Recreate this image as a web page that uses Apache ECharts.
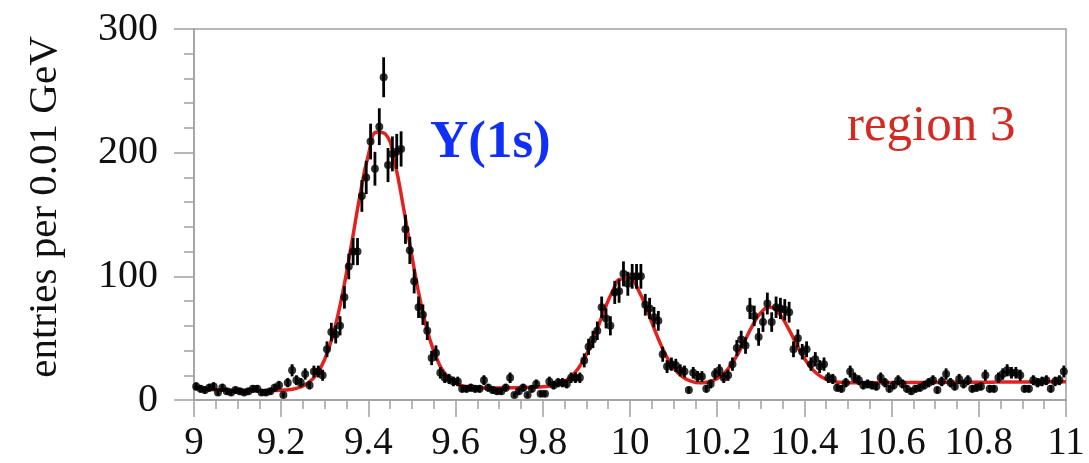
<!DOCTYPE html>
<html>
<head>
<meta charset="utf-8">
<script src="https://cdn.jsdelivr.net/npm/echarts@6/dist/echarts.min.js"></script>
<style>
html,body{margin:0;padding:0;background:#fff;}
#chart{width:1089px;height:463px;}
</style>
</head>
<body>
<div id="chart"></div>
<script>
// Histogram: entries per 0.01 GeV bin, bin centres 9.005 ... 10.995
const binStart = 9.005;
const binWidth = 0.01;
const counts = [
  11, 9, 8, 10, 11, 6, 10, 7, 6, 8,
  7, 6, 7, 9, 9, 6, 6, 7, 10, 12,
  4, 14, 24, 16, 14, 21, 12, 23, 23, 20,
  41, 55, 53, 60, 83, 108, 120, 120, 165, 180,
  209, 187, 221, 261, 190, 199, 201, 203, 138, 121,
  96, 75, 69, 56, 34, 38, 22, 18, 17, 15,
  15, 9, 9, 10, 9, 9, 16, 10, 8, 7,
  7, 10, 18, 4, 7, 10, 4, 9, 13, 5,
  5, 15, 12, 14, 14, 13, 18, 18, 18, 32,
  43, 49, 56, 75, 66, 60, 87, 88, 102, 94,
  100, 100, 100, 77, 74, 67, 64, 37, 27, 29,
  28, 24, 23, 8, 22, 19, 19, 9, 13, 21,
  24, 18, 20, 29, 42, 49, 44, 74, 68, 51,
  63, 78, 63, 75, 74, 73, 71, 41, 50, 39,
  41, 29, 33, 27, 29, 18, 17, 10, 9, 14,
  23, 18, 16, 12, 13, 12, 11, 18, 14, 9,
  12, 16, 13, 9, 7, 9, 10, 12, 14, 16,
  8, 15, 21, 14, 11, 17, 13, 16, 9, 10,
  11, 20, 9, 9, 18, 21, 24, 22, 22, 20,
  9, 9, 16, 14, 15, 16, 9, 15, 16, 23
];

const fitStart = 9.0;
const fitStep = 0.02;
const fitValues = [
  9.5, 9.0, 8.5, 8.2, 7.9, 7.7, 7.6, 7.5, 7.5, 7.7,
  7.9, 8.5, 10.0, 13.4, 20.2, 33.1, 54.3, 85.0, 123.4, 164.0,
  198.1, 216.8, 214.7, 192.5, 156.5, 115.9, 78.7, 50.1, 30.9, 19.6,
  13.8, 11.1, 10.1, 9.8, 9.7, 9.8, 9.9, 10.0, 10.1, 10.3,
  10.7, 11.5, 13.5, 17.5, 24.9, 36.8, 53.0, 71.4, 87.9, 97.9,
  98.0, 88.2, 71.9, 53.7, 37.7, 26.0, 18.9, 15.2, 13.9, 14.6,
  17.4, 23.2, 32.8, 45.7, 59.6, 70.6, 74.9, 70.8, 60.0, 46.3,
  33.6, 24.2, 18.5, 15.6, 14.4, 14.0, 13.9, 13.9, 14.0, 14.0,
  14.1, 14.1, 14.1, 14.2, 14.2, 14.2, 14.3, 14.3, 14.3, 14.4,
  14.4, 14.4, 14.5, 14.5, 14.5, 14.6, 14.6, 14.6, 14.7, 14.7,
  14.7
];

const xTickLabels = ['9', '9.2', '9.4', '9.6', '9.8', '10', '10.2', '10.4', '10.6', '10.8', '11'];
const yTickLabels = ['0', '100', '200', '300'];

const yTitle = 'entries per 0.01 GeV';
const peakLabel = 'Y(1s)';
const regionLabel = 'region 3';

// build series data
const points = counts.map((c, i) => [+(binStart + i * binWidth).toFixed(3), c]);
const errors = counts.map((c, i) => {
  const e = Math.sqrt(c);
  return [+(binStart + i * binWidth).toFixed(3), c - e, c + e];
});
const fitLine = fitValues.map((v, i) => [+(fitStart + i * fitStep).toFixed(2), v]);

const chart = echarts.init(document.getElementById('chart'), null, {renderer: 'canvas'});
const serif = '"Liberation Serif", "DejaVu Serif", serif';
const axisGray = '#a0a0a0';

chart.setOption({
  animation: false,
  backgroundColor: '#ffffff',
  grid: {
    left: 194, right: 23, top: 29, bottom: 62,
    show: true, borderColor: axisGray, borderWidth: 1.5, backgroundColor: 'transparent'
  },
  xAxis: {
    type: 'value',
    min: 9, max: 11, interval: 0.2,
    axisLine: {show: true, onZero: false, lineStyle: {color: axisGray, width: 1.5}},
    axisTick: {show: true, length: 17, lineStyle: {color: axisGray, width: 1.5}},
    minorTick: {show: true, splitNumber: 4, length: 9, lineStyle: {color: axisGray, width: 1.5}},
    splitLine: {show: false},
    axisLabel: {
      margin: 24, fontFamily: serif, fontSize: 39, color: '#111',
      formatter: function (v) {
        const idx = Math.round((v - 9) / 0.2);
        return xTickLabels[idx] !== undefined ? xTickLabels[idx] : '';
      }
    }
  },
  yAxis: {
    type: 'value',
    min: 0, max: 300, interval: 100,
    axisLine: {show: true, onZero: false, lineStyle: {color: axisGray, width: 1.5}},
    axisTick: {show: true, length: 20, lineStyle: {color: axisGray, width: 1.5}},
    minorTick: {show: true, splitNumber: 5, length: 10, lineStyle: {color: axisGray, width: 1.5}},
    splitLine: {show: false},
    axisLabel: {
      margin: 36, fontFamily: serif, fontSize: 40, color: '#111',
      formatter: function (v) {
        const idx = Math.round(v / 100);
        return yTickLabels[idx] !== undefined ? yTickLabels[idx] : '';
      }
    }
  },
  graphic: [
    {
      type: 'text', x: 45, y: 207, rotation: Math.PI / 2,
      style: {text: yTitle, fontFamily: serif, fontSize: 41, fill: '#111', align: 'center', verticalAlign: 'middle'}
    },
    {
      type: 'text', x: 430, y: 143,
      style: {text: peakLabel, fontFamily: serif, fontSize: 53, fontWeight: 'bold', fill: '#1030f5', align: 'left', verticalAlign: 'middle'}
    },
    {
      type: 'text', x: 847, y: 127,
      style: {text: regionLabel, fontFamily: serif, fontSize: 51, fill: '#d42a22', align: 'left', verticalAlign: 'middle'}
    }
  ],
  series: [
    {
      type: 'line', data: fitLine, smooth: true, showSymbol: false, z: 2,
      lineStyle: {color: '#e0231e', width: 3.5}
    },
    {
      type: 'custom', z: 3,
      data: errors,
      encode: {x: 0, y: [1, 2]},
      renderItem: function (params, api) {
        const x = api.value(0);
        const lo = api.coord([x, api.value(1)]);
        const hi = api.coord([x, api.value(2)]);
        return {
          type: 'line',
          shape: {x1: lo[0], y1: lo[1], x2: hi[0], y2: hi[1]},
          style: {stroke: '#000', lineWidth: 2.8}
        };
      }
    },
    {
      type: 'scatter', data: points, z: 4,
      symbol: 'circle', symbolSize: 8,
      itemStyle: {color: '#000'}
    }
  ]
});
</script>
</body>
</html>
